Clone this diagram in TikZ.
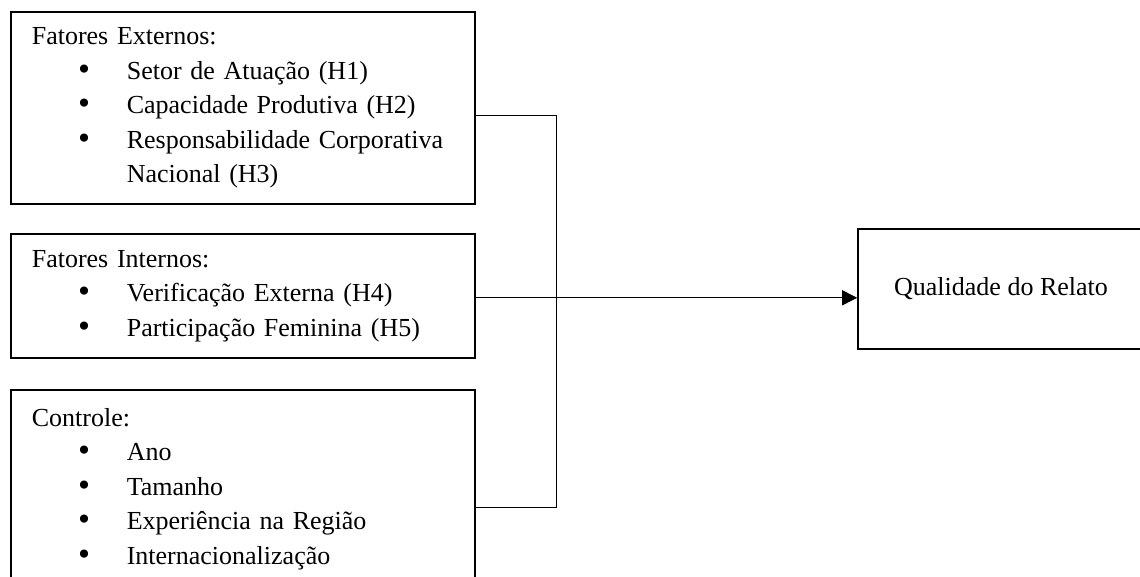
\documentclass[tikz,border=0pt]{standalone}
\usepackage{fontspec}
\setmainfont{Liberation Serif}
\newfontfamily\symfont{DejaVu Sans}
\usetikzlibrary{arrows.meta, calc}

\newcommand{\bul}{\makebox[95pt][l]{\hspace*{44pt}{\symfont\fontsize{28pt}{28pt}\selectfont\textbullet}}}

\begin{document}
\begin{tikzpicture}[x=1pt, y=-1pt, >={Triangle[length=15pt,width=15pt]}]
\tikzset{
  fator/.style={draw, line width=1.6pt, anchor=north west, minimum width=464pt,
                inner xsep=21pt, inner ysep=0pt, text width=422pt, align=left,
                font=\fontsize{26pt}{34.5pt}\selectfont},
  result/.style={draw, line width=1.6pt, minimum width=286pt, minimum height=120pt,
                 font=\fontsize{26pt}{34.5pt}\selectfont}
  };

\useasboundingbox (0,0) rectangle (1140,576);

\node[fator, minimum height=192pt] (ext) at (10,11)
  {Fatores Externos:\\
   \bul Setor de Atuação (H1)\\
   \bul Capacidade Produtiva (H2)\\
   \bul Responsabilidade Corporativa\\
   \hspace*{95pt}Nacional (H3)};
\node[fator, minimum height=124pt] (int) at (10,233)
  {Fatores Internos:\\
   \bul Verificação Externa (H4)\\
   \bul Participação Feminina (H5)};
\node[fator, minimum height=198pt] (ctl) at (10,389)
  {Controle:\\
   \bul Ano\\
   \bul Tamanho\\
   \bul Experiência na Região\\
   \bul Internacionalização};

\node[result] (res) at (1001,289) {Qualidade do Relato};

\coordinate (top) at (556,115);
\coordinate (bot) at (556,507);

\draw[line width=1pt] (ext.east |- top) -- (top) -- (bot) -- (ctl.east |- bot);
\draw[->, line width=1pt] ([yshift=-2pt]int.east) -- ([yshift=-2pt]int.east -| res.west);

\end{tikzpicture}
\end{document}
